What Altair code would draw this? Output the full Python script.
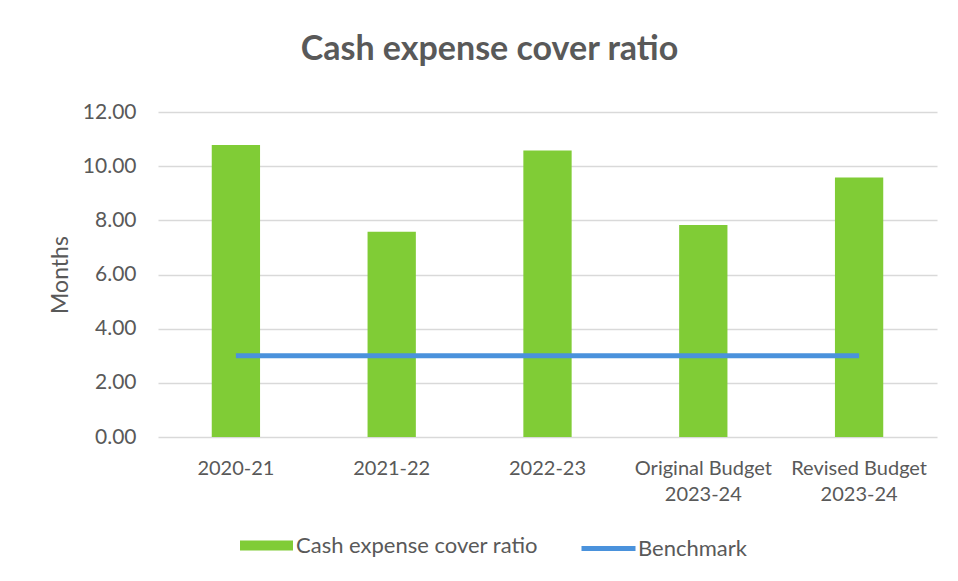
import altair as alt
import pandas as pd

categories = ["2020-21", "2021-22", "2022-23", "Original Budget 2023-24", "Revised Budget 2023-24"]
ratio_values = [10.78, 7.58, 10.58, 7.83, 9.58]
benchmark_values = [3.0, 3.0, 3.0, 3.0, 3.0]
y_ticks = [0, 2, 4, 6, 8, 10, 12]

bar_series = "Cash expense cover ratio"
line_series = "Benchmark"

bars_df = pd.DataFrame({"category": categories, "value": ratio_values, "series": bar_series})
line_df = pd.DataFrame({"category": categories, "value": benchmark_values, "series": line_series})

FONT = "Lato"
GREY = "#595959"
GREEN = "#80cc36"
BLUE = "#4a92dc"

x_enc = alt.X(
    "category:N",
    sort=categories,
    scale=alt.Scale(paddingInner=0.69, paddingOuter=0.345),
    axis=alt.Axis(
        title=None,
        labelAngle=0,
        labelFont=FONT,
        labelFontSize=20,
        labelColor=GREY,
        labelPadding=21,
        labelLineHeight=26,
        labelBaseline="top",
        labelLimit=400,
        tickSize=0,
        domain=False,
        grid=False,
        labelExpr="split(replace(datum.label, ' 2023-24', '|2023-24'), '|')",
    ),
)

y_enc = alt.Y(
    "value:Q",
    scale=alt.Scale(domain=[0, 12], nice=False),
    axis=alt.Axis(
        title="Months",
        titleFont=FONT,
        titleFontSize=23,
        titleFontWeight="normal",
        titleColor=GREY,
        titlePadding=10,
        values=y_ticks,
        format=".2f",
        labelFont=FONT,
        labelFontSize=21,
        labelColor=GREY,
        labelPadding=22,
        tickSize=0,
        domain=False,
        grid=True,
        gridColor="#d9d9d9",
        gridWidth=1.3,
    ),
)

legend_common = dict(
    title=None,
    orient="none",
    labelFont=FONT,
    labelFontSize=22,
    labelColor=GREY,
    labelLimit=400,
    padding=0,
)

bars = alt.Chart(bars_df).mark_bar(color=GREEN).encode(
    x=x_enc,
    y=y_enc,
    fill=alt.Fill(
        "series:N",
        scale=alt.Scale(domain=[bar_series], range=[GREEN]),
        legend=alt.Legend(
            legendX=82,
            legendY=407,
            symbolType="M-1,-0.19H1V0.19H-1Z",
            symbolSize=2809,
            symbolStrokeWidth=0,
            labelOffset=3,
            **legend_common,
        ),
    ),
)

line = alt.Chart(line_df).mark_line(strokeWidth=5).encode(
    x=alt.X("category:N", sort=categories),
    y=alt.Y("value:Q"),
    stroke=alt.Stroke(
        "series:N",
        scale=alt.Scale(domain=[line_series], range=[BLUE]),
        legend=alt.Legend(
            legendX=421,
            legendY=407,
            symbolType="stroke",
            symbolSize=2916,
            symbolStrokeWidth=5,
            labelOffset=0,
            **legend_common,
        ),
    ),
)

chart = (
    alt.layer(bars, line)
    .resolve_scale(fill="independent", stroke="independent")
    .properties(
        width=779,
        height=325,
        title=alt.Title(
            "Cash expense cover ratio",
            font=FONT,
            fontSize=34,
            fontWeight="bold",
            color=GREY,
            anchor="middle",
            dx=-58,
            offset=7,
            baseline="alphabetic",
        ),
        autosize=alt.AutoSizeParams(type="none"),
        padding={"left": 150, "top": 104, "right": 13, "bottom": 130},
        background="white",
    )
    .configure_view(stroke=None)
)

chart.save("out.html", embed_options={"renderer": "svg", "actions": False})
